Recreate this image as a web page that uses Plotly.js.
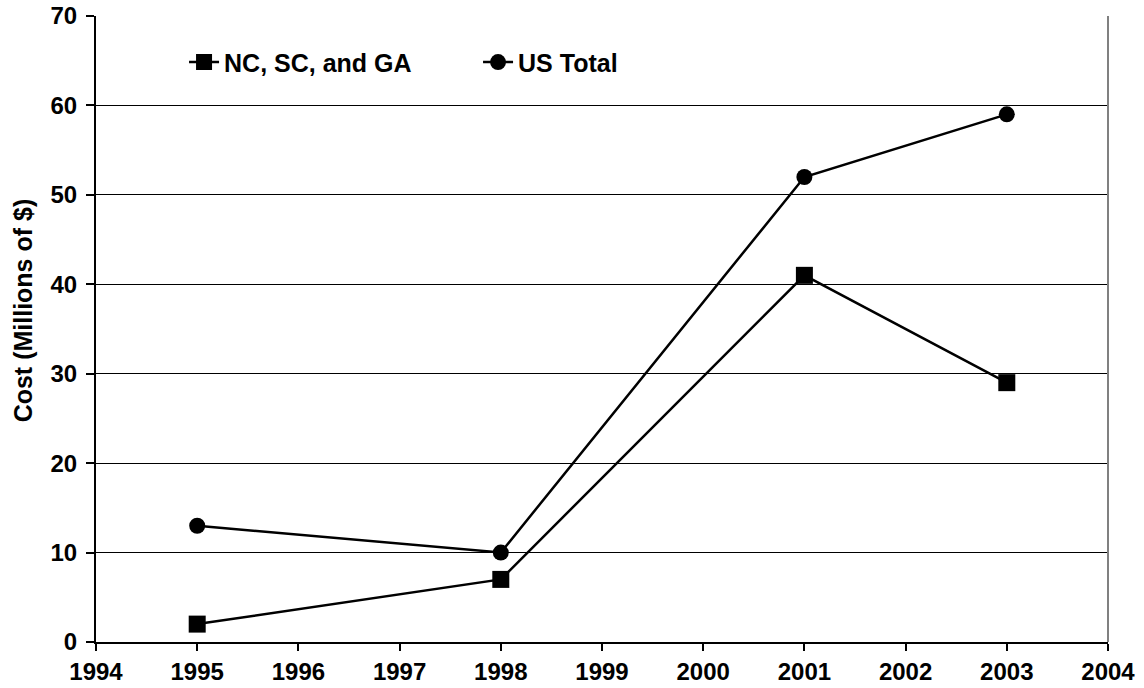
<!DOCTYPE html>
<html>
<head>
<meta charset="utf-8">
<script src="https://cdn.plot.ly/plotly-3.0.1.min.js"></script>
<style>html,body{margin:0;padding:0;background:#fff;}#chart{width:1144px;height:688px;}</style>
</head>
<body>
<div id="chart"></div>
<script>
const years = [1995, 1998, 2001, 2003];
const ncScGa = [2, 7, 41, 29];
const usTotal = [13, 10, 52, 59];
const seriesNames = ["NC, SC, and GA", "US Total"];
const yTitle = "Cost (Millions of $)";

const font = {family: "Liberation Sans, Arial, sans-serif", color: "#000", weight: 700};

const traces = [
  {x: years, y: ncScGa, name: seriesNames[0], type: "scatter", mode: "lines+markers",
   line: {color: "#000", width: 2.5}, marker: {symbol: "square", size: 17, color: "#000"}},
  {x: years, y: usTotal, name: seriesNames[1], type: "scatter", mode: "lines+markers",
   line: {color: "#000", width: 2.5}, marker: {symbol: "circle", size: 16, color: "#000"}}
];

const layout = {
  width: 1144, height: 688,
  margin: {l: 96, r: 36, t: 16, b: 46},
  paper_bgcolor: "#fff", plot_bgcolor: "#fff",
  font: Object.assign({}, font, {size: 24}),
  showlegend: true,
  legend: {orientation: "h", x: 0.087, y: 0.926, xanchor: "left", yanchor: "middle",
           font: Object.assign({}, font, {size: 25}), bgcolor: "rgba(0,0,0,0)",
           entrywidth: 249, entrywidthmode: "pixels"},
  xaxis: {range: [1994, 2004], dtick: 1, tick0: 1994, showgrid: false, zeroline: false,
          showline: true, linecolor: "#000", linewidth: 2, ticks: "outside", ticklen: 7,
          tickwidth: 2, tickcolor: "#000", tickfont: Object.assign({}, font, {size: 24})},
  yaxis: {range: [0, 70], dtick: 10, showgrid: true, gridcolor: "#000", gridwidth: 1,
          zeroline: false, showline: true, linecolor: "#000", linewidth: 2,
          ticks: "outside", ticklen: 8, tickwidth: 2, tickcolor: "#000",
          ticklabelstandoff: 4,
          tickfont: Object.assign({}, font, {size: 24})},
  annotations: [{text: yTitle, xref: "paper", yref: "paper", x: -0.072, y: 0.53,
                 xanchor: "center", yanchor: "middle", textangle: -90, showarrow: false,
                 font: Object.assign({}, font, {size: 25})}],
  shapes: [{type: "line", xref: "paper", yref: "paper", x0: 1, x1: 1, y0: 0, y1: 1,
            line: {color: "#808080", width: 2}}]
};

Plotly.newPlot("chart", traces, layout, {displayModeBar: false, staticPlot: true});
</script>
</body>
</html>
